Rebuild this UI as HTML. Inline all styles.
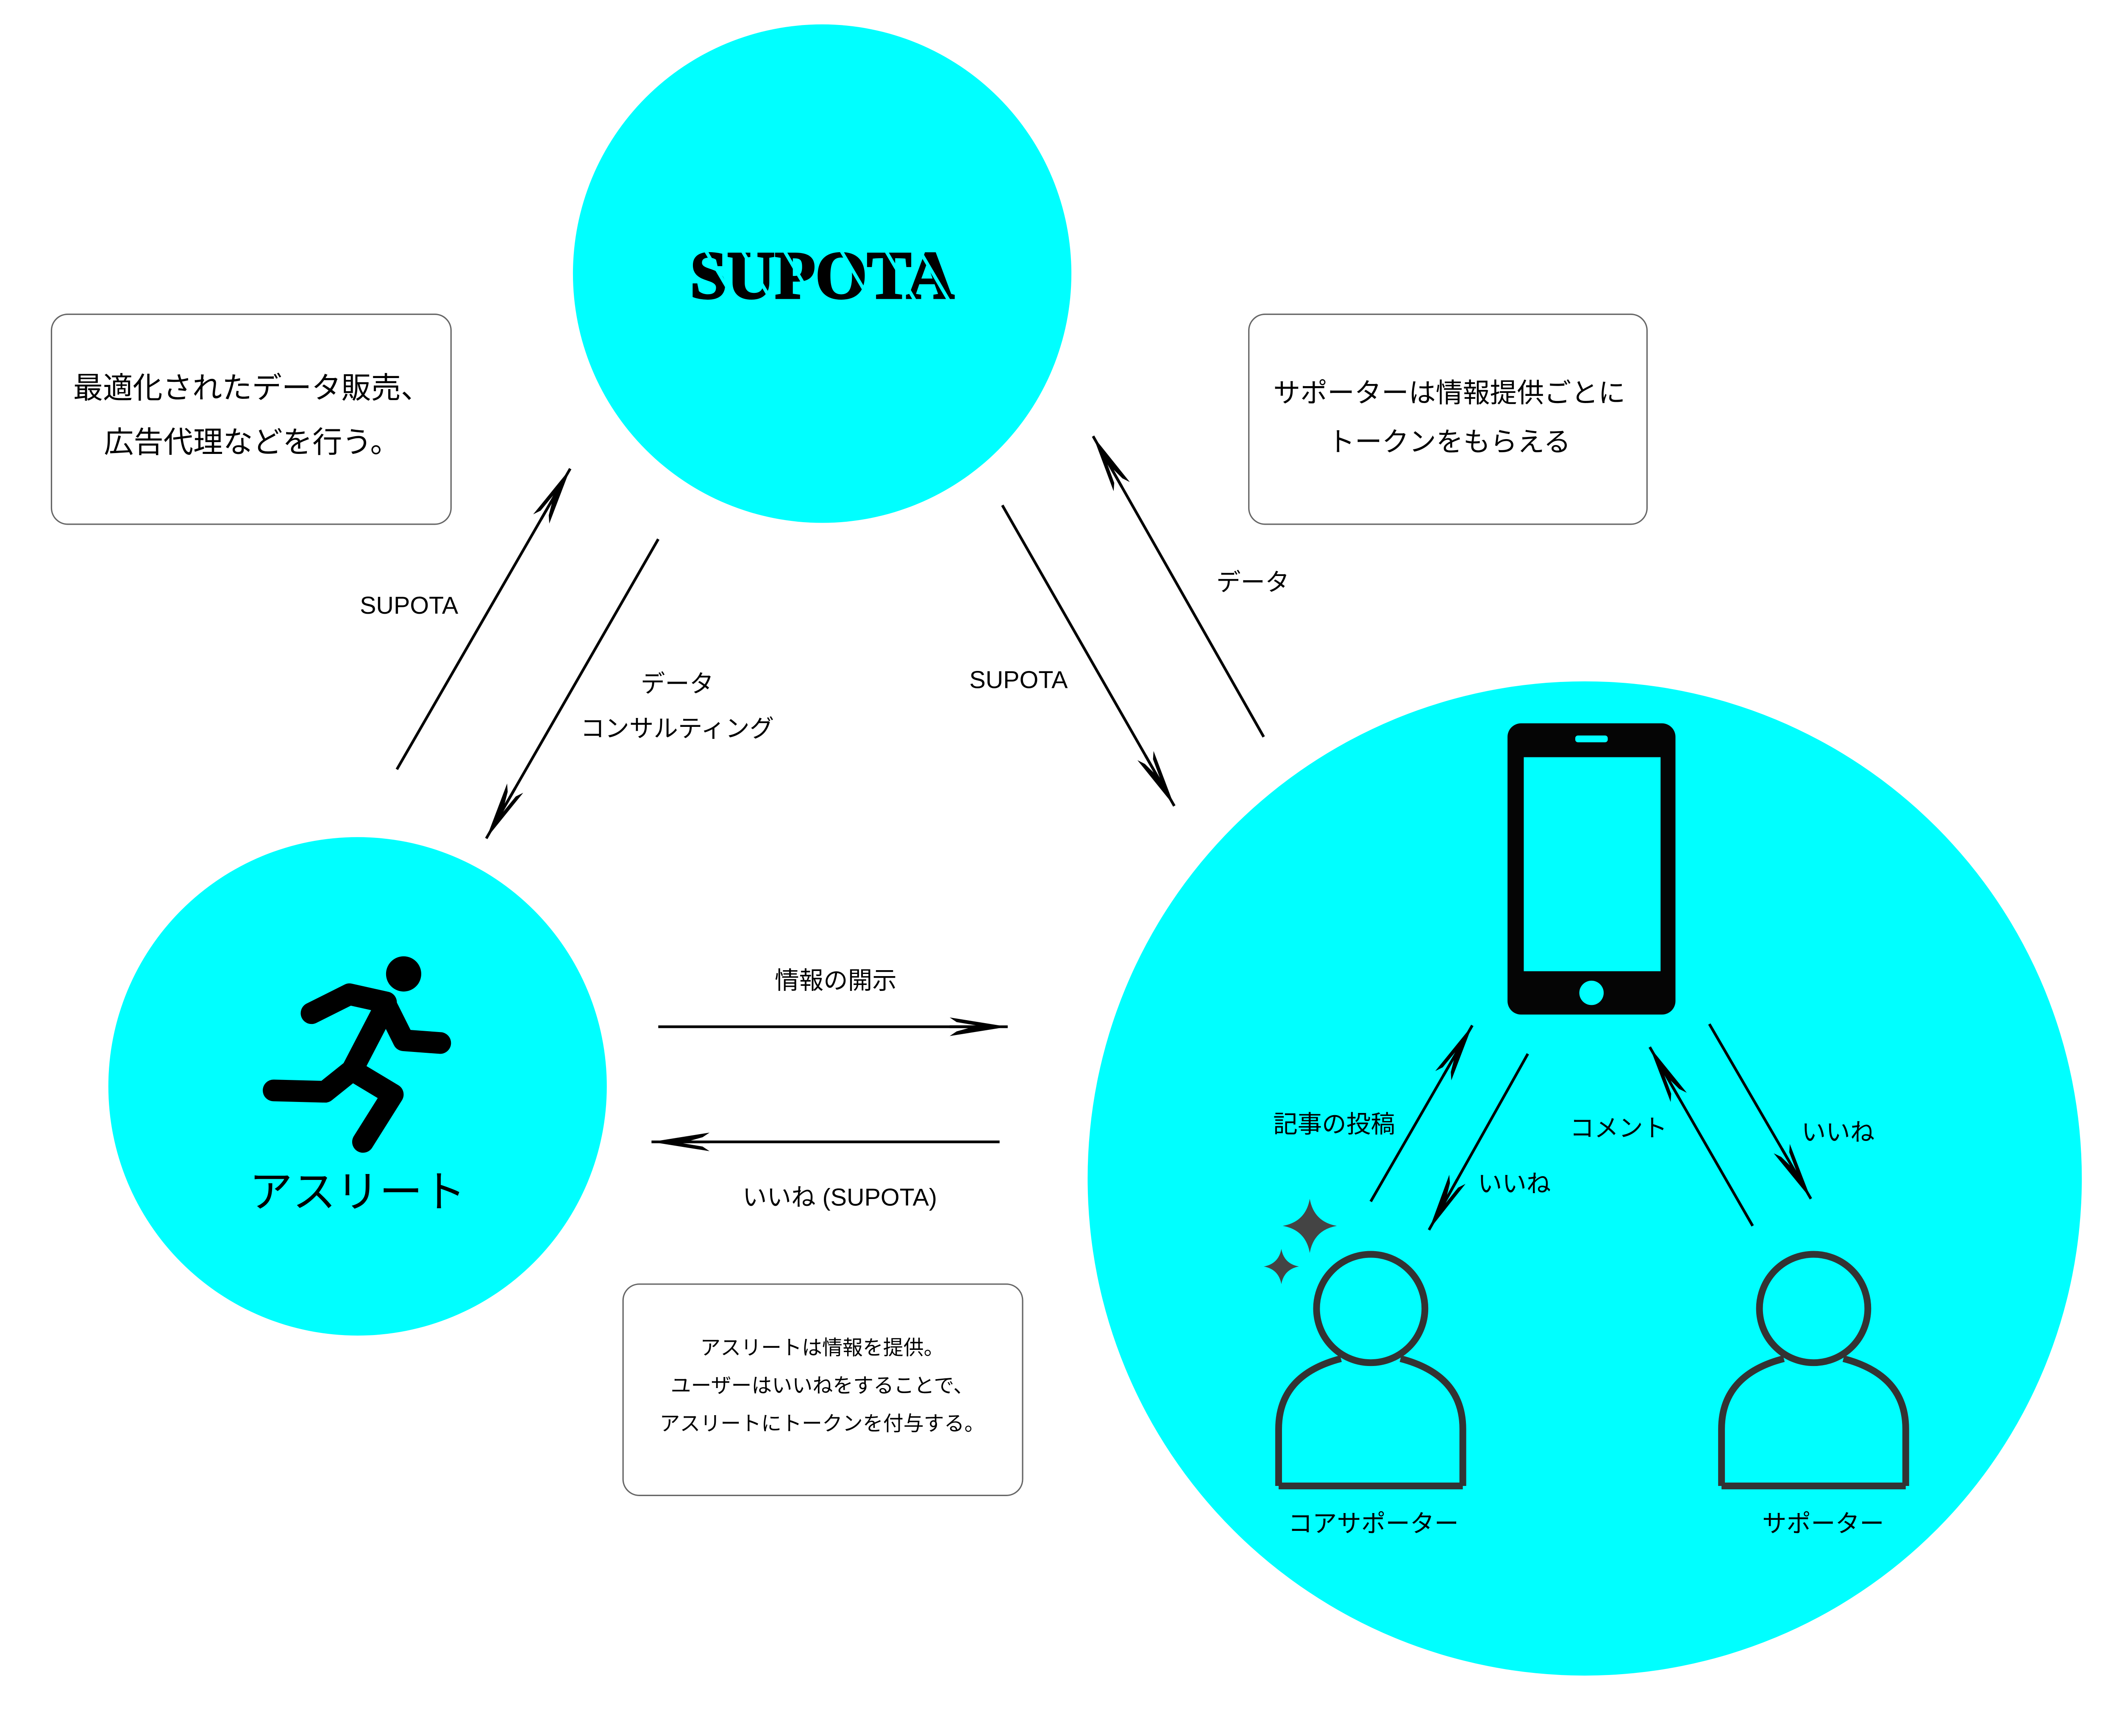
<!DOCTYPE html>
<html><head><meta charset="utf-8"><style>html,body{margin:0;padding:0;background:#fff}svg{display:block}</style></head>
<body>
<svg xmlns="http://www.w3.org/2000/svg" width="5120" height="4096" viewBox="0 0 1602 1281.6" font-family="'Liberation Sans','Noto Sans CJK JP',sans-serif">
<defs>
<marker id="a" markerUnits="userSpaceOnUse" markerWidth="60" markerHeight="30" refX="0" refY="0" viewBox="-60 -15 70 30" orient="auto" overflow="visible">
<path d="M0 0 L-50 -8 L-44 -4 L-26 -1 L-44 4 L-50 8 Z M-26 -1.2 L-50 -1.2 L-50 1.2 L-26 1.2 Z" fill="#000"/>
</marker>
</defs>
<rect width="1602" height="1282" fill="#fff"/>
<circle cx="607" cy="202" r="184" fill="#00ffff"/>
<circle cx="264" cy="802" r="184" fill="#00ffff"/>
<circle cx="1170" cy="870" r="367" fill="#00ffff"/>
<g fill="#fff" stroke="#666" stroke-width="1">
<rect x="38" y="232" width="295" height="155" rx="12"/>
<rect x="922" y="232" width="294" height="155" rx="12"/>
<rect x="460" y="948" width="295" height="156" rx="12"/>
</g>
<g stroke="#000" stroke-width="2" marker-end="url(#a)" fill="none">
<line x1="293" y1="568" x2="421" y2="346"/>
<line x1="486" y1="398" x2="359" y2="619"/>
<line x1="740" y1="373" x2="867" y2="595"/>
<line x1="933" y1="544" x2="807" y2="322"/>
<line x1="486" y1="758" x2="744" y2="758"/>
<line x1="738" y1="843" x2="481" y2="843"/>
<line x1="1012" y1="887" x2="1087" y2="757"/>
<line x1="1128" y1="778" x2="1055" y2="908"/>
<line x1="1294" y1="905" x2="1218" y2="773"/>
<line x1="1262" y1="756" x2="1337" y2="885"/>
</g>
<text x="607" y="220" font-family="'Liberation Serif',serif" font-weight="bold" font-size="50" text-anchor="middle" textLength="195" lengthAdjust="spacingAndGlyphs" stroke="#000" stroke-width="1.5">SUPOTA</text>
<g stroke="#00ffff" stroke-width="2.5">
<line x1="518" y1="180" x2="545" y2="226"/><line x1="545" y1="180" x2="572" y2="226"/><line x1="576" y1="180" x2="603" y2="226"/><line x1="618" y1="180" x2="645" y2="226"/><line x1="651" y1="180" x2="678" y2="226"/><line x1="676" y1="180" x2="703" y2="226"/>
</g>
<g font-size="18" text-anchor="middle" fill="#000">
<text x="302" y="453">SUPOTA</text>
<text x="500" y="511">データ</text>
<text x="500" y="544">コンサルティング</text>
<text x="752" y="508">SUPOTA</text>
<text x="925" y="436">データ</text>
<text x="617" y="730">情報の開示</text>
<text x="620" y="890">いいね (SUPOTA)</text>
<text x="985" y="836">記事の投稿</text>
<text x="1118" y="880">いいね</text>
<text x="1195" y="839">コメント</text>
<text x="1357" y="842">いいね</text>
<text x="1014" y="1131">コアサポーター</text>
<text x="1346" y="1131">サポーター</text>
</g>
<g text-anchor="middle" fill="#000">
<text x="186" y="294" font-size="22">最適化されたデータ販売、</text>
<text x="186" y="334" font-size="22">広告代理などを行う。</text>
<text x="1070" y="297" font-size="20">サポーターは情報提供ごとに</text>
<text x="1070" y="333" font-size="20">トークンをもらえる</text>
<text x="607" y="1000" font-size="15">アスリートは情報を提供。</text>
<text x="607" y="1028" font-size="15">ユーザーはいいねをすることで、</text>
<text x="607" y="1056" font-size="15">アスリートにトークンを付与する。</text>
<text x="264" y="891" font-size="32">アスリート</text>
</g>
<rect x="1113" y="534" width="124" height="215" rx="10" fill="#050505"/>
<rect x="1125" y="559" width="101" height="158" fill="#00ffff"/>
<rect x="1163" y="543" width="24" height="5" rx="2" fill="#00ffff"/>
<circle cx="1175" cy="733" r="9" fill="#00ffff"/>
<g fill="none" stroke="#333" stroke-width="5">
<circle cx="1012" cy="966" r="40"/>
<path d="M944 1097 L944 1055 Q944 1015 990 1003 M1034 1003 Q1080 1015 1080 1055 L1080 1097 M944 1097 L1080 1097"/>
<circle cx="1339" cy="966" r="40"/>
<path d="M1271 1097 L1271 1055 Q1271 1015 1317 1003 M1361 1003 Q1407 1015 1407 1055 L1407 1097 M1271 1097 L1407 1097"/>
</g>
<g fill="#444">
<path d="M967 885 Q970 902 987 905 Q970 908 967 925 Q964 908 947 905 Q964 902 967 885Z"/>
<path d="M946 922 Q948 933 959 935 Q948 937 946 948 Q944 937 933 935 Q944 933 946 922Z"/>
</g>
<g stroke="#000" stroke-width="16" stroke-linecap="round" stroke-linejoin="round" fill="none">
<circle cx="298" cy="719" r="7" fill="#000" stroke-width="12"/>
<polyline points="285,742 260,790"/>
<polyline points="285,740 258,734 230,748"/>
<polyline points="285,742 298,768 325,770"/>
<polyline points="260,790 290,808 268,843"/>
<polyline points="260,790 240,806 202,805"/>
</g>
</svg>
</body></html>
